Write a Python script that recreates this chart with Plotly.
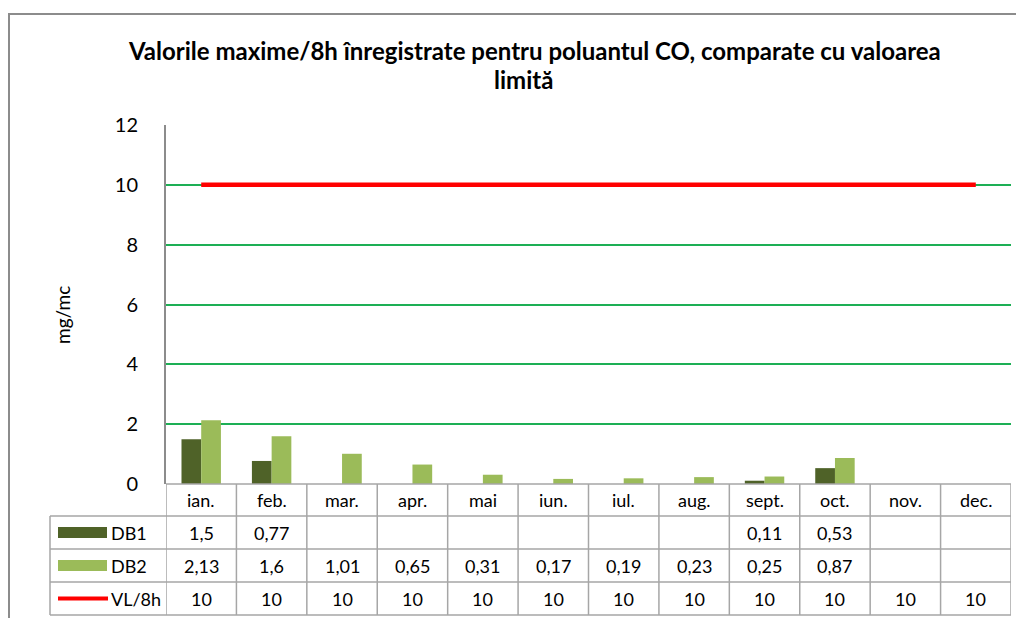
import plotly.graph_objects as go

months = ["ian.", "feb.", "mar.", "apr.", "mai", "iun.", "iul.", "aug.", "sept.", "oct.", "nov.", "dec."]
db1 = [1.5, 0.77, None, None, None, None, None, None, 0.11, 0.53, None, None]
db2 = [2.13, 1.6, 1.01, 0.65, 0.31, 0.17, 0.19, 0.23, 0.25, 0.87, None, None]
vl8h = [10, 10, 10, 10, 10, 10, 10, 10, 10, 10, 10, 10]
series_names = ["DB1", "DB2", "VL/8h"]
title_lines = ["Valorile maxime/8h înregistrate pentru poluantul CO, comparate cu valoarea", "limită"]
y_title = "mg/mc"

C_DB1 = "#4F6228"
C_DB2 = "#9BBB59"
C_VL = "#FF0000"
C_GRID = "#1DAF55"
C_BORDER = "#A6A6A6"
FONT = "Lato"

# page offset: the browser body has an 8px margin
OFF = 8
W, H = 1024 - OFF, 618 - OFF
SX0, SX1, SY0, SY1 = 166, 1011, 125, 484
L, R, T, B = SX0 - OFF, 1024 - SX1, SY0 - OFF, 618 - SY1
PH = SY1 - SY0
PW = SX1 - SX0


def py(pix):
    return (SY1 - pix) / PH


def px(pix):
    return (pix - SX0) / PW


def fmt(v):
    if v is None:
        return ""
    return ("%g" % v).replace(".", ",")


idx = list(range(len(months)))

fig = go.Figure()
fig.add_trace(go.Bar(x=idx, y=db1, name=series_names[0], marker=dict(color=C_DB1, line=dict(width=0))))
fig.add_trace(go.Bar(x=idx, y=db2, name=series_names[1], marker=dict(color=C_DB2, line=dict(width=0))))
fig.add_trace(go.Scatter(x=idx, y=vl8h, name=series_names[2], mode="lines",
                         line=dict(color=C_VL, width=4.5)))

shapes = []
annotations = []

row_tops = [484, 516, 549, 582, 615]
row_mid = [(row_tops[i] + row_tops[i + 1]) / 2 for i in range(4)]

shapes.append(dict(type="line", xref="paper", yref="paper", x0=0, x1=1, y0=py(row_tops[0]), y1=py(row_tops[0]),
                   line=dict(color=C_BORDER, width=1.5)))
for rt in row_tops[1:]:
    shapes.append(dict(type="line", xref="paper", yref="paper", x0=px(50), x1=1, y0=py(rt), y1=py(rt),
                       line=dict(color=C_BORDER, width=1.5)))
for i in range(len(months) + 1):
    shapes.append(dict(type="line", xref="x", yref="paper", x0=i - 0.5, x1=i - 0.5,
                       y0=py(row_tops[0]), y1=py(row_tops[-1]), line=dict(color=C_BORDER, width=1.5)))
shapes.append(dict(type="line", xref="paper", yref="paper", x0=px(50), x1=px(50),
                   y0=py(row_tops[1]), y1=py(row_tops[-1]), line=dict(color=C_BORDER, width=1.5)))

# outer chart frame
shapes.append(dict(type="line", xref="paper", yref="paper", x0=px(8), x1=px(1030), y0=py(14), y1=py(14),
                   line=dict(color="#8C8C8C", width=2)))
shapes.append(dict(type="line", xref="paper", yref="paper", x0=px(9), x1=px(9), y0=py(13), y1=py(630),
                   line=dict(color="#8C8C8C", width=2)))

# legend keys
shapes.append(dict(type="rect", xref="paper", yref="paper", x0=px(58), x1=px(107),
                   y0=py(row_mid[1] + 5.5), y1=py(row_mid[1] - 5.5), fillcolor=C_DB1, line=dict(width=0)))
shapes.append(dict(type="rect", xref="paper", yref="paper", x0=px(58), x1=px(107),
                   y0=py(row_mid[2] + 5.5), y1=py(row_mid[2] - 5.5), fillcolor=C_DB2, line=dict(width=0)))
shapes.append(dict(type="line", xref="paper", yref="paper", x0=px(58), x1=px(108),
                   y0=py(row_mid[3]), y1=py(row_mid[3]), line=dict(color=C_VL, width=4)))

tf = dict(family=FONT, size=18, color="#000000")
for j, nm in enumerate(series_names):
    annotations.append(dict(xref="paper", yref="paper", x=px(109), y=py(row_mid[j + 1]), text=nm,
                            showarrow=False, xanchor="left", yanchor="middle", font=tf))

for i, m in enumerate(months):
    annotations.append(dict(xref="x", yref="paper", x=i, y=py(row_mid[0]), text=m, showarrow=False,
                            xanchor="center", yanchor="middle", font=tf))
    for j, ser in enumerate([db1, db2, vl8h]):
        t = fmt(ser[i])
        if t:
            annotations.append(dict(xref="x", yref="paper", x=i, y=py(row_mid[j + 1]), text=t,
                                    showarrow=False, xanchor="center", yanchor="middle", font=tf))

annotations.append(dict(xref="paper", yref="paper", x=px(62), y=py(315), text=y_title, textangle=-90,
                        showarrow=False, xanchor="center", yanchor="middle",
                        font=dict(family=FONT, size=19, color="#000000")))

# title (two lines)
title_pos = [(534, 50), (523, 80)]
for line, (tx, ty) in zip(title_lines, title_pos):
    annotations.append(dict(xref="paper", yref="paper", x=px(tx), y=py(ty), text="<b>" + line + "</b>",
                            showarrow=False, xanchor="center", yanchor="middle",
                            font=dict(family=FONT, size=24, color="#000000")))

fig.update_layout(
    width=W, height=H,
    margin=dict(l=L, r=R, t=T, b=B),
    paper_bgcolor="white", plot_bgcolor="white",
    showlegend=False,
    barmode="group", bargap=0.44, bargroupgap=0,
    xaxis=dict(range=[-0.5, len(months) - 0.5], showticklabels=False, showgrid=False, zeroline=False,
               showline=False, ticks=""),
    yaxis=dict(range=[0, 12], tickvals=[0, 2, 4, 6, 8, 10, 12], showgrid=True, gridcolor=C_GRID, gridwidth=2,
               zeroline=False, showline=True, linecolor="#8C8C8C", linewidth=2, ticks="",
               ticklabelstandoff=22, tickfont=dict(family=FONT, size=20, color="#000000")),
    shapes=shapes,
    annotations=annotations,
)

fig.write_html("out.html")
